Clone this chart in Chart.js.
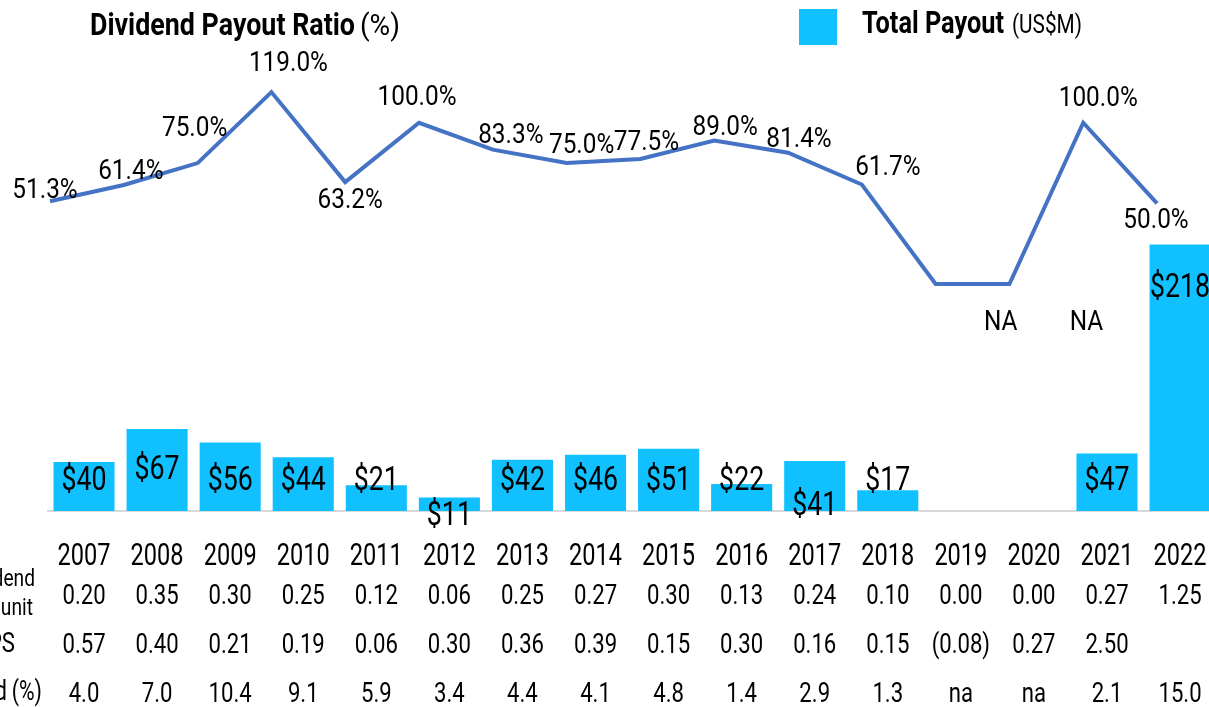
<!DOCTYPE html>
<html>
<head>
<meta charset="utf-8">
<script src="https://cdn.jsdelivr.net/npm/chart.js@4.4.0/dist/chart.umd.min.js"></script>
<style>
  html, body { margin: 0; padding: 0; overflow: hidden; background: #fff; }
  #wrap { width: 1230px; height: 707px; }
  #chart { display: block; width: 1230px; height: 707px; }
</style>
</head>
<body>
<div id="wrap"><canvas id="chart" width="1230" height="707"></canvas></div>
<script>
const years = ['2007', '2008', '2009', '2010', '2011', '2012', '2013', '2014', '2015', '2016', '2017', '2018', '2019', '2020', '2021', '2022'];
const totalPayout = [40, 67, 56, 44, 21, 11, 42, 46, 51, 22, 41, 17, null, null, 47, 218];
const payoutRatio = [51.3, 61.4, 75.0, 119.0, 63.2, 100.0, 83.3, 75.0, 77.5, 89.0, 81.4, 61.7, 0, 0, 100.0, 50.0];
const payoutRatioText = ['51.3%', '61.4%', '75.0%', '119.0%', '63.2%', '100.0%', '83.3%', '75.0%', '77.5%', '89.0%', '81.4%', '61.7%', 'NA', 'NA', '100.0%', '50.0%'];
const dividendPerUnit = ['0.20', '0.35', '0.30', '0.25', '0.12', '0.06', '0.25', '0.27', '0.30', '0.13', '0.24', '0.10', '0.00', '0.00', '0.27', '1.25'];
const eps = ['0.57', '0.40', '0.21', '0.19', '0.06', '0.30', '0.36', '0.39', '0.15', '0.30', '0.16', '0.15', '(0.08)', '0.27', '2.50', ''];
const yieldPct = ['4.0', '7.0', '10.4', '9.1', '5.9', '3.4', '4.4', '4.1', '4.8', '1.4', '2.9', '1.3', 'na', 'na', '2.1', '15.0'];

const FONT = "Roboto, 'DejaVu Sans Condensed', sans-serif";
const BAR_COLOR = '#10C0FF';
const LINE_COLOR = '#4472C4';

// label nudges (pixels), purely cosmetic
const barLabelShift = { 1: -11, 5: 35, 10: 25 };
const lineLabelOffset = [[-5, -13], [7, -16], [-3, -37], [17, -31], [5, 16], [-2, -28], [18, -17], [15, -20],
  [6, -19], [11, -15], [11, -16], [26, -20], [65, 36], [77, 36], [15, -27], [-1, 15]];

// text squeezed horizontally to mimic a condensed face
function drawText(ctx, text, x, y, size, opts) {
  opts = opts || {};
  ctx.save();
  ctx.font = (opts.bold ? 'bold ' : '') + size + 'px ' + FONT;
  ctx.textAlign = opts.align || 'center';
  ctx.textBaseline = 'alphabetic';
  let sx = opts.sx || 0.8;
  if (opts.width) sx = opts.width / ctx.measureText(text).width;
  ctx.translate(x, y);
  ctx.scale(sx, 1);
  ctx.fillText(text, 0, 0);
  ctx.restore();
}

const labelsPlugin = {
  id: 'labels',
  afterDatasetsDraw(chart) {
    const ctx = chart.ctx;
    const yScale = chart.scales.y;
    const xScale = chart.scales.x;
    ctx.save();
    ctx.fillStyle = '#000';

    // bar labels
    chart.getDatasetMeta(0).data.forEach((bar, i) => {
      const v = totalPayout[i];
      if (v == null) return;
      let y = (bar.base - bar.y > 150) ? bar.y + 40 : yScale.getPixelForValue(27);
      y += barLabelShift[i] || 0;
      drawText(ctx, '$' + v, bar.x, y + 12, 33, { sx: 0.81 });
    });

    // line labels
    chart.getDatasetMeta(1).data.forEach((pt, i) => {
      const off = lineLabelOffset[i];
      drawText(ctx, payoutRatioText[i], pt.x + off[0], pt.y + off[1] + 10, 28, { sx: 0.87 });
    });

    // year labels and table under the axis
    years.forEach((yr, i) => {
      const x = xScale.getPixelForValue(i);
      drawText(ctx, yr, x, 565, 31, { sx: 0.76 });
      drawText(ctx, dividendPerUnit[i], x, 604, 28, { sx: 0.79 });
      drawText(ctx, eps[i], x, 653, 28, { sx: 0.79 });
      drawText(ctx, yieldPct[i], x, 702, 28, { sx: 0.79 });
    });
    drawText(ctx, 'Dividend', 35, 586, 24, { align: 'right', sx: 0.8 });
    drawText(ctx, 'per unit', 33, 615, 24, { align: 'right', sx: 0.8 });
    drawText(ctx, 'EPS', 15, 652, 28, { align: 'right', sx: 0.79 });
    drawText(ctx, 'Yield', 7, 700, 28, { align: 'right', sx: 0.79 });
    drawText(ctx, '(%)', 42, 700, 28, { align: 'right', sx: 0.76 });

    // titles / legend
    drawText(ctx, 'Dividend Payout Ratio', 90, 35, 31, { align: 'left', bold: true, width: 265 });
    drawText(ctx, '(%)', 360, 35, 29, { align: 'left', width: 40 });
    ctx.fillStyle = BAR_COLOR;
    ctx.fillRect(799, 9, 38, 36);
    ctx.fillStyle = '#000';
    drawText(ctx, 'Total Payout', 862, 33, 31, { align: 'left', bold: true, width: 142 });
    drawText(ctx, '(US$M)', 1012, 33, 26, { align: 'left', width: 70 });
    ctx.restore();
  }
};

new Chart(document.getElementById('chart'), {
  data: {
    labels: years,
    datasets: [
      {
        type: 'bar',
        label: 'Total Payout (US$M)',
        data: totalPayout,
        backgroundColor: BAR_COLOR,
        barPercentage: 0.836,
        categoryPercentage: 1,
        grouped: false,
        xAxisID: 'x',
        yAxisID: 'y',
        order: 2
      },
      {
        type: 'line',
        label: 'Dividend Payout Ratio (%)',
        data: payoutRatio.map((v, i) => ({ x: i, y: v })),
        borderColor: LINE_COLOR,
        borderWidth: 4,
        pointRadius: 0,
        tension: 0,
        fill: false,
        xAxisID: 'x2',
        yAxisID: 'y2',
        order: 1
      }
    ]
  },
  options: {
    responsive: false,
    animation: false,
    layout: { padding: { left: 47.5, right: 13.4, top: 60, bottom: 196 } },
    plugins: {
      legend: { display: false },
      tooltip: { enabled: false }
    },
    scales: {
      x: {
        type: 'category',
        offset: true,
        grid: { display: false, drawTicks: false },
        border: { display: true, color: '#D9D9D9', width: 2 },
        ticks: { display: false }
      },
      x2: {
        type: 'linear',
        display: false,
        min: -0.034,
        max: 15.807
      },
      y: {
        display: false,
        min: 0,
        max: 369
      },
      y2: {
        display: false,
        min: -140.7,
        max: 138.9
      }
    }
  },
  plugins: [labelsPlugin]
});
</script>
</body>
</html>
